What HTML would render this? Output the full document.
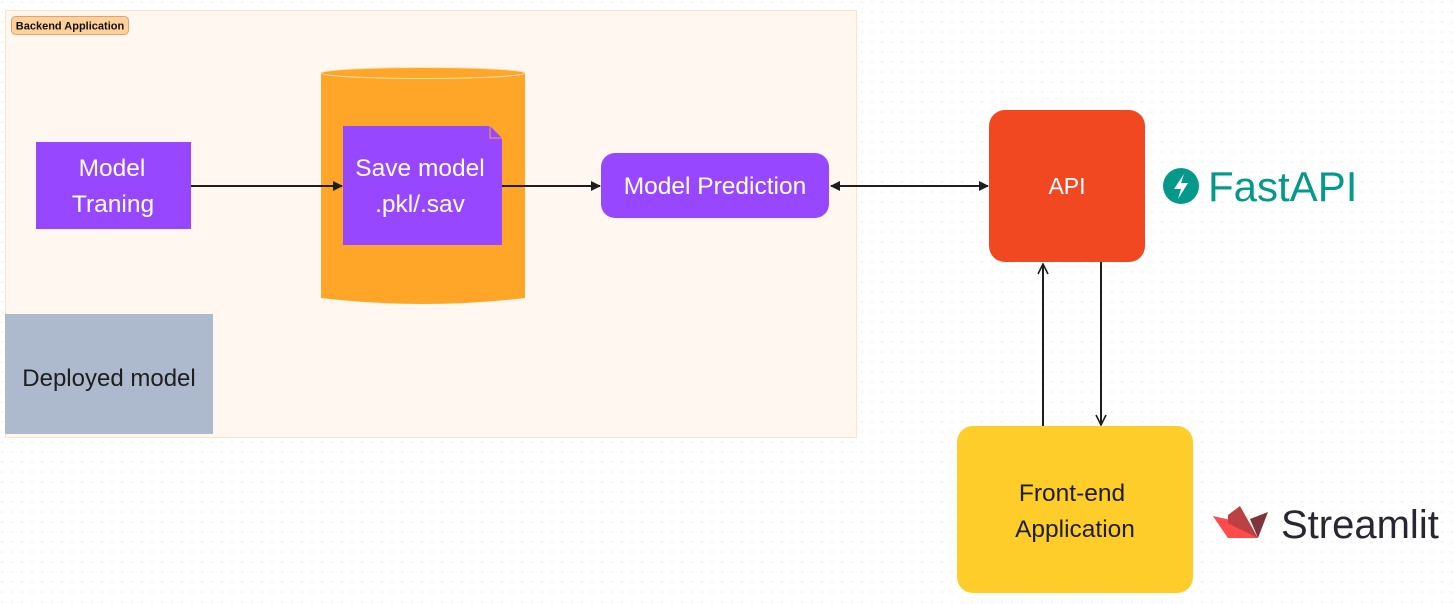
<!DOCTYPE html>
<html><head><meta charset="utf-8"><style>
html,body{margin:0;padding:0;background:#fff;}
svg{display:block;font-family:"Liberation Sans",sans-serif;}
</style></head><body>
<svg width="1453" height="604" viewBox="0 0 1453 604" xmlns="http://www.w3.org/2000/svg">
<defs>
<pattern id="dots" width="10" height="10" patternUnits="userSpaceOnUse"><circle cx="2" cy="2" r="0.8" fill="#e6e6e6"/></pattern>
<marker id="af" markerWidth="10" markerHeight="10" refX="9" refY="5" orient="auto-start-reverse" markerUnits="userSpaceOnUse"><path d="M0,0 L10,5 L0,10 Z" fill="#1e1e1e"/></marker>
<marker id="ao" markerWidth="12" markerHeight="12" refX="11" refY="6" orient="auto-start-reverse" markerUnits="userSpaceOnUse"><path d="M1,1 L11,6 L1,11" fill="none" stroke="#1e1e1e" stroke-width="1.6"/></marker>
</defs>
<rect width="1453" height="604" fill="url(#dots)"/>
<rect x="5.5" y="10.5" width="851" height="427" fill="#fff7f0" stroke="#fde3c8"/>
<rect x="11.5" y="16.5" width="117" height="18" rx="4" fill="#fcd19c" stroke="#e0a468"/>
<text x="70" y="29.5" font-size="11" font-weight="600" text-anchor="middle" fill="#111">Backend Application</text>

<rect x="36" y="142" width="155" height="87" fill="#9747ff"/>
<text x="112" y="176" font-size="24.5" fill="#fff" text-anchor="middle">Model</text>
<text x="113" y="212" font-size="24.5" fill="#fff" text-anchor="middle">Traning</text>

<path d="M321,73 L321,298 Q423,310 525,298 L525,73 Z" fill="#ffa629"/>
<ellipse cx="423" cy="73" rx="102" ry="5.5" fill="#ffa629" stroke="#ffe0b0" stroke-width="1"/>
<path d="M343,126 L490,126 L502,138 L502,245 L343,245 Z" fill="#9747ff"/>
<path d="M490,126 L490,138 L502,138" fill="none" stroke="#ffa629" stroke-width="1"/>
<text x="420" y="176" font-size="24.5" fill="#fff" text-anchor="middle">Save model</text>
<text x="420" y="212" font-size="24.5" fill="#fff" text-anchor="middle">.pkl/.sav</text>

<rect x="601" y="153" width="228" height="65" rx="14" fill="#9747ff"/>
<text x="715" y="194" font-size="24.5" fill="#fff" text-anchor="middle">Model Prediction</text>

<rect x="5" y="314" width="208" height="120" fill="#adb9cc"/>
<text x="109" y="386" font-size="24" fill="#1e1e1e" text-anchor="middle">Deployed model</text>

<rect x="989" y="110" width="156" height="152" rx="16" fill="#f24822"/>
<text x="1067" y="194" font-size="23" fill="#fff" text-anchor="middle">API</text>

<rect x="957" y="426" width="236" height="167" rx="16" fill="#ffcd29"/>
<text x="1072" y="501" font-size="24.5" fill="#1e1e1e" text-anchor="middle">Front-end</text>
<text x="1075" y="537" font-size="24.5" fill="#1e1e1e" text-anchor="middle">Application</text>

<line x1="191" y1="186" x2="342" y2="186" stroke="#1e1e1e" stroke-width="2" marker-end="url(#af)"/>
<line x1="502" y1="186" x2="600" y2="186" stroke="#1e1e1e" stroke-width="2" marker-end="url(#af)"/>
<line x1="831" y1="186" x2="988" y2="186" stroke="#1e1e1e" stroke-width="2" marker-start="url(#af)" marker-end="url(#af)"/>
<line x1="1043" y1="426" x2="1043" y2="264" stroke="#1e1e1e" stroke-width="2" marker-end="url(#ao)"/>
<line x1="1101" y1="262" x2="1101" y2="425" stroke="#1e1e1e" stroke-width="2" marker-end="url(#ao)"/>

<circle cx="1181" cy="186" r="18" fill="#05998b"/>
<path d="M1184,174 L1174,189 L1181,189 L1178,199 L1188,183 L1181,183 Z" fill="#fff"/>
<text x="1208" y="201" font-size="42" fill="#05998b">FastAPI</text>

<path d="M1213,516 L1240,522 L1228,538 Z" fill="#ff4b4b"/>
<path d="M1228,515 L1240,506 L1258,538 L1228,538 Z" fill="#bd4043"/>
<path d="M1250,519 L1268,512 L1258,538 Z" fill="#7d353b"/>
<path d="M1213,516 L1258,538 L1228,538 Z" fill="#ff4b4b"/>
<text x="1281" y="538" font-size="40" fill="#262730">Streamlit</text>
</svg>
</body></html>
